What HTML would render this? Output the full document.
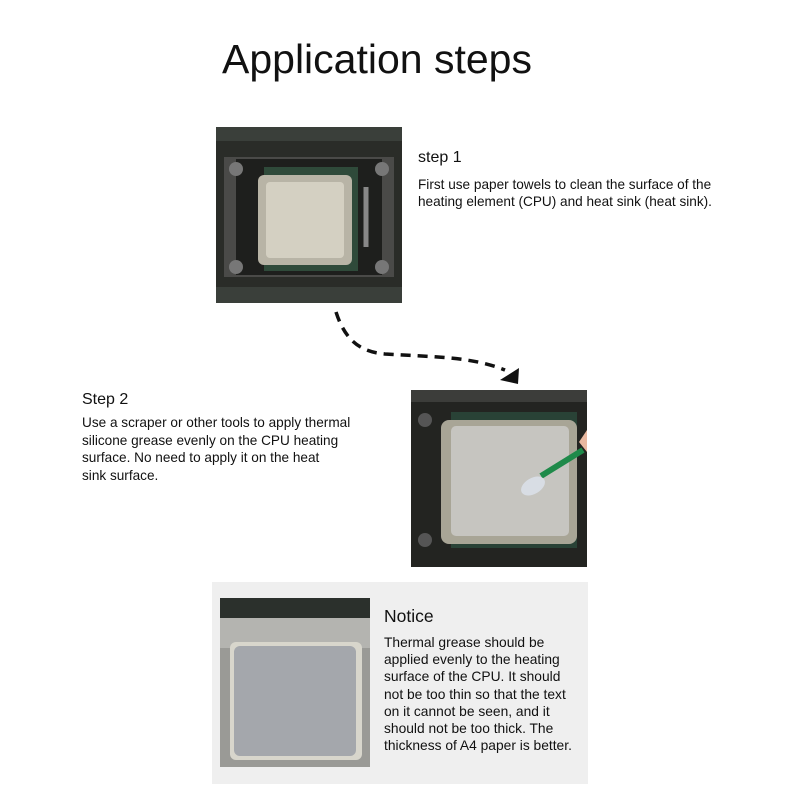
<!DOCTYPE html>
<html><head><meta charset="utf-8"><style>
body{margin:0;width:800px;height:800px;background:#fff;position:relative;overflow:hidden;font-family:"Liberation Sans",Arial,sans-serif;color:#111}
.t{position:absolute;white-space:nowrap}
</style></head><body>
<div class="t" style="left:222px;top:36px;font-size:41px;">Application steps</div>

<svg style="position:absolute;left:216px;top:127px" width="186" height="176" viewBox="0 0 186 176">
<rect width="186" height="176" fill="#2a2c28"/>
<rect x="0" y="0" width="186" height="14" fill="#3a3f3a"/>
<rect x="0" y="160" width="186" height="16" fill="#3a3f3a"/>
<path d="M8 30 H178 V150 H8 Z" fill="#4a4a48"/>
<rect x="20" y="32" width="146" height="116" fill="#1e1f1d"/>
<rect x="48" y="40" width="94" height="104" fill="#2f4a3a"/>
<rect x="42" y="48" width="94" height="90" rx="6" fill="#b8b4a6"/>
<rect x="50" y="55" width="78" height="76" rx="4" fill="#d4d0c2"/>
<circle cx="20" cy="42" r="7" fill="#777"/><circle cx="166" cy="42" r="7" fill="#777"/>
<circle cx="20" cy="140" r="7" fill="#777"/><circle cx="166" cy="140" r="7" fill="#777"/>
<path d="M150 60 V120" stroke="#888" stroke-width="5"/>
</svg>
<div class="t" style="left:418px;top:149px;font-size:16px;">step 1</div>
<div class="t" style="left:418px;top:176px;font-size:13.6px;line-height:17px;">First use paper towels to clean the surface of the<br>heating element (CPU) and heat sink (heat sink).</div>

<svg style="position:absolute;left:0;top:0" width="800" height="800">
<path d="M336 312 C345 340 360 352 385 354 C430 357 470 356 505 370" fill="none" stroke="#111" stroke-width="3.5" stroke-dasharray="10,7"/>
<polygon points="500,380 519,368 518,384" fill="#111"/>
</svg>

<div class="t" style="left:82px;top:391px;font-size:16px;">Step 2</div>
<div class="t" style="left:82px;top:414px;font-size:13.6px;line-height:17.5px;">Use a scraper or other tools to apply thermal<br>silicone grease evenly on the CPU heating<br>surface. No need to apply it on the heat<br>sink surface.</div>

<svg style="position:absolute;left:411px;top:390px" width="176" height="177" viewBox="0 0 176 177">
<rect width="176" height="177" fill="#232421"/>
<rect x="0" y="0" width="176" height="12" fill="#3c3d3a"/>
<rect x="40" y="22" width="126" height="136" fill="#294236"/>
<rect x="30" y="30" width="136" height="124" rx="8" fill="#a8a596"/>
<rect x="40" y="36" width="118" height="110" rx="5" fill="#c6c5c0"/>
<circle cx="14" cy="30" r="7" fill="#555"/><circle cx="14" cy="150" r="7" fill="#555"/>
<path d="M130 86 L172 60" stroke="#1f8a4a" stroke-width="6"/>
<ellipse cx="122" cy="96" rx="13" ry="8" fill="#d8dde4" transform="rotate(-30 122 96)"/>
<path d="M168 52 L176 40 L176 62 Z" fill="#e8b8a0"/>
</svg>

<div style="position:absolute;left:212px;top:582px;width:376px;height:202px;background:#efefef"></div>
<svg style="position:absolute;left:220px;top:598px" width="150" height="169" viewBox="0 0 150 169">
<rect width="150" height="169" fill="#2b302c"/>
<rect x="0" y="20" width="150" height="40" fill="#b4b4b0"/>
<rect x="0" y="50" width="150" height="119" fill="#9a9a96"/>
<rect x="10" y="44" width="132" height="118" rx="6" fill="#d8d6cc"/>
<rect x="14" y="48" width="122" height="110" rx="6" fill="#a4a7ac"/>
</svg>
<div class="t" style="left:384px;top:606px;font-size:17.5px;">Notice</div>
<div class="t" style="left:384px;top:634px;font-size:13.8px;line-height:17.2px;">Thermal grease should be<br>applied evenly to the heating<br>surface of the CPU. It should<br>not be too thin so that the text<br>on it cannot be seen, and it<br>should not be too thick. The<br>thickness of A4 paper is better.</div>
</body></html>
